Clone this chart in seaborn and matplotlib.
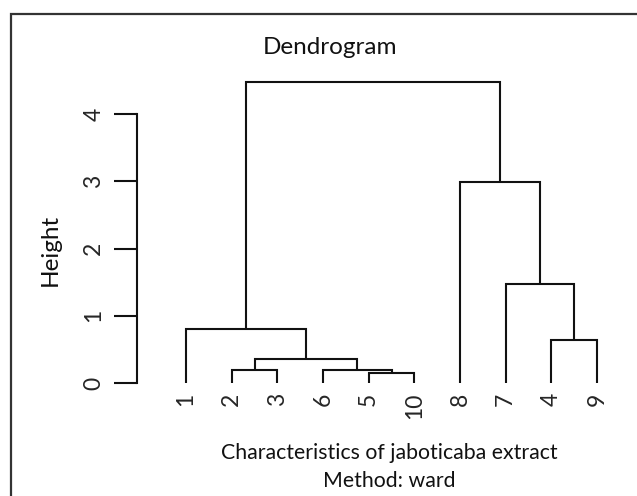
import matplotlib
matplotlib.use("Agg")
import numpy as np
import pandas as pd
import seaborn as sns
import matplotlib.pyplot as plt
from matplotlib.patches import Rectangle

# ---- data ----
leaf_order = [1, 2, 3, 6, 5, 10, 8, 7, 4, 9]          # leaf order left -> right
# R hclust-style merge table: negative = observation, positive = earlier merge row (1-based)
merge_left = [-5, -2, -6, 2, -4, -1, -7, -8, 6]
merge_right = [-10, -3, 1, 3, -9, 4, 5, 7, 8]
merge_height = [0.15, 0.19, 0.19, 0.35, 0.64, 0.81, 1.47, 2.99, 4.48]
y_ticks = [0, 1, 2, 3, 4]

title = "Dendrogram"
x_label = "Characteristics of jaboticaba extract\nMethod: ward"
y_label = "Height"

# ---- style ----
sns.set_style("white")
plt.rcParams["font.family"] = ["Lato", "DejaVu Sans"]

W, H = 637, 496
fig = plt.figure(figsize=(W / 100, H / 100), dpi=100)

# geometry in pixels
ax_left_px, ax_right_px = 137, 630
x_unit = (597 - 186) / 9.0
xlim0 = 1 - (186 - ax_left_px) / x_unit
xlim1 = xlim0 + (ax_right_px - ax_left_px) / x_unit
y0_px, y_unit = 383, (383 - 114) / 4.0
ylim0, ylim1 = -0.15, 4.6
ax_bot_px = y0_px - ylim0 * y_unit
ax_top_px = y0_px - ylim1 * y_unit
ax = fig.add_axes([ax_left_px / W, (H - ax_bot_px) / H,
                   (ax_right_px - ax_left_px) / W, (ax_bot_px - ax_top_px) / H])

# ---- build dendrogram segments ----
leaf_pos = {obs: i + 1 for i, obs in enumerate(leaf_order)}
node_x, node_y = {}, {}

def child(c):
    if c < 0:
        return leaf_pos[-c], 0.0
    return node_x[c], node_y[c]

rows = []
for i, (l, r, h) in enumerate(zip(merge_left, merge_right, merge_height), start=1):
    xl, yl = child(l)
    xr, yr = child(r)
    node_x[i] = (xl + xr) / 2.0
    node_y[i] = h
    for k, (px, py) in enumerate([(xl, yl), (xl, h), (xr, h), (xr, yr)]):
        rows.append({"seg": i, "order": k, "x": px, "y": py})
seg_df = pd.DataFrame(rows)

sns.lineplot(data=seg_df, x="x", y="y", units="seg", estimator=None, sort=False,
             color="#111111", linewidth=1.5, ax=ax, legend=False)
for ln in ax.lines:
    ln.set_clip_on(False)
    ln.set_solid_joinstyle("miter")
    ln.set_solid_capstyle("butt")

ax.set_xlim(xlim0, xlim1)
ax.set_ylim(ylim0, ylim1)
ax.set_xlabel("")
ax.set_ylabel("")

for s in ["top", "right", "bottom"]:
    ax.spines[s].set_visible(False)
ax.spines["left"].set_bounds(0, 4)
ax.spines["left"].set_linewidth(1.5)
ax.spines["left"].set_color("#111111")

ax.set_yticks(y_ticks)
ax.set_yticklabels([str(v) for v in y_ticks], rotation=90, fontsize=16.5)
for lab in ax.get_yticklabels():
    lab.set_va("center")
ax.tick_params(axis="y", left=True, length=16.5, width=1.5, color="#111111", pad=7)

ax.set_xticks(list(range(1, len(leaf_order) + 1)))
ax.set_xticklabels([str(v) for v in leaf_order], rotation=90, fontsize=16.5)
for lab in ax.get_xticklabels():
    lab.set_va("top")
ax.tick_params(axis="x", bottom=False, length=0, pad=0)

# labels / title
fig.text(330 / W, 1 - 47 / H, title, ha="center", va="center", fontsize=17.5,
         color="#111111")
fig.text(389 / W, 1 - 467 / H, x_label, ha="center", va="center", fontsize=15.3,
         linespacing=1.5, color="#111111")
fig.text(50 / W, 1 - 250 / H, y_label, ha="center", va="center", rotation=90,
         fontsize=17.5, color="#111111")

# outer frame (cut off on right and bottom like the reference)
fig.patches.append(Rectangle((10.5 / W, -0.1), 1.2, 1 - 14 / H + 0.1,
                             transform=fig.transFigure, fill=False,
                             edgecolor="#333333", linewidth=1.6))

fig.savefig("out.png", dpi=100, facecolor="white")
